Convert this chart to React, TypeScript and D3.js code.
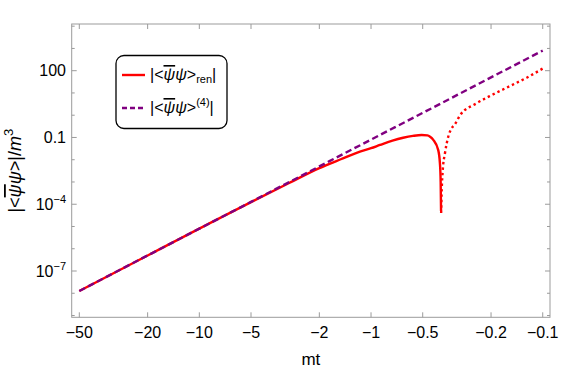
import React from 'react'
import * as d3 from 'd3'

// values (mt < 0, log-log axes)
const dashMt = [-50, -20, -10, -5, -2, -1, -0.5, -0.2, -0.1]
const dashVal = [1.27e-8, 5.0e-7, 8.0e-6, 1.27e-4, 5.0e-3, 0.08, 1.27, 50, 800]

const renMt = [-50, -20, -10, -5, -3, -2, -1.5, -1.16, -1, -0.887, -0.75, -0.65, -0.57, -0.507, -0.47, -0.453, -0.434, -0.406, -0.397, -0.393, -0.391]
const renVal = [1.27e-8, 5.0e-7, 8.0e-6, 1.25e-4, 9.0e-4, 4.2e-3, 1.05e-2, 0.023, 0.033, 0.046, 0.072, 0.097, 0.118, 0.13, 0.124, 0.108, 0.078, 0.027, 0.007, 0.001, 5e-5]

// negative branch, drawn dotted
const negMt = [-0.3905, -0.388, -0.382, -0.371, -0.355, -0.34, -0.324, -0.303, -0.243, -0.194, -0.155, -0.124, -0.1]
const negVal = [4e-5, 3e-4, 3.5e-3, 0.0195, 0.108, 0.25, 0.4, 1.0, 3.4, 8.7, 20.5, 48.5, 125]

const xTicks = [-50, -20, -10, -5, -2, -1, -0.5, -0.2, -0.1]
const yMajor = [1e-7, 1e-4, 0.1, 100]
const yMinorExp = [-9, -8, -6, -5, -3, -2, 0, 1, 3, 4]

const W = 561
const H = 371
const L = 71.7, R = 550, T = 24, B = 317.3
const font = "'Liberation Sans', Arial, sans-serif"

export default function App() {
  const x = d3.scaleLog().domain([-55.37, -0.0907]).range([L, R])
  const y = d3.scaleLog().domain([Math.pow(10, -9.08), Math.pow(10, 4.098)]).range([B, T])

  const line = d3.line<[number, number]>()
    .x(d => x(d[0]))
    .y(d => y(d[1]))
    .curve(d3.curveMonotoneX)

  const zip = (a: number[], b: number[]) => a.map((v, i) => [v, b[i]] as [number, number])

  const frame = '#9b9b9b'
  const fmtX = (v: number) => '\u2212' + String(Math.abs(v))

  const yLabel = (v: number) => {
    if (v === 100) return <tspan>100</tspan>
    if (v === 0.1) return <tspan>0.1</tspan>
    const e = Math.round(Math.log10(v))
    return (
      <>
        <tspan>10</tspan>
        <tspan dy={-7} fontSize={11}>{'\u2212' + Math.abs(e)}</tspan>
      </>
    )
  }

  return (
    <svg width={W} height={H} style={{ position: 'absolute', left: 0, top: 0, background: '#fff' }}
      fontFamily={font}>
      <defs>
        <clipPath id="plot">
          <rect x={L} y={T} width={R - L} height={B - T} />
        </clipPath>
      </defs>

      {/* frame */}
      <rect x={L} y={T} width={R - L} height={B - T} fill="none" stroke={frame} strokeWidth={1} />

      {/* x ticks, bottom + top */}
      {xTicks.map(t => (
        <g key={'xt' + t}>
          <line x1={x(t)} x2={x(t)} y1={B} y2={B - 5} stroke={frame} />
          <line x1={x(t)} x2={x(t)} y1={T} y2={T + 5} stroke={frame} />
          <text x={x(t)} y={337.5} textAnchor="middle" fontSize={16} fill="#000">{fmtX(t)}</text>
        </g>
      ))}

      {/* y ticks */}
      {yMajor.map(t => (
        <g key={'ym' + t}>
          <line x1={L} x2={L + 5} y1={y(t)} y2={y(t)} stroke={frame} />
          <line x1={R} x2={R - 5} y1={y(t)} y2={y(t)} stroke={frame} />
          <text x={66} y={y(t) + 5.5} textAnchor="end" fontSize={16} fill="#000">{yLabel(t)}</text>
        </g>
      ))}
      {yMinorExp.map(e => (
        <g key={'yn' + e}>
          <line x1={L} x2={L + 3} y1={y(Math.pow(10, e))} y2={y(Math.pow(10, e))} stroke={frame} />
          <line x1={R} x2={R - 3} y1={y(Math.pow(10, e))} y2={y(Math.pow(10, e))} stroke={frame} />
        </g>
      ))}

      {/* curves */}
      <g clipPath="url(#plot)" fill="none">
        <path d={line(zip(renMt, renVal)) || ''} stroke="#ff0000" strokeWidth={2.4} />
        <path d={line(zip(negMt, negVal)) || ''} stroke="#ff0000" strokeWidth={2.4} strokeDasharray="2.4 3" />
        <path d={line(zip(dashMt, dashVal)) || ''} stroke="#800080" strokeWidth={2.4} strokeDasharray="6.5 3.5" />
      </g>

      {/* axis labels */}
      <text x={(L + R) / 2} y={365} textAnchor="middle" fontSize={17} fill="#000">mt</text>
      <text transform={`translate(21, ${(T + B) / 2}) rotate(-90)`} textAnchor="middle" fontSize={18} fill="#000">
        |&lt;<tspan fontStyle="italic" textDecoration="overline">ψ</tspan><tspan fontStyle="italic">ψ</tspan>&gt;|/<tspan fontStyle="italic">m</tspan><tspan dy={-8} fontSize={13}>3</tspan>
      </text>

      {/* legend */}
      <rect x={116} y={55.5} width={111} height={73} rx={8} fill="#fff" stroke="#000" strokeWidth={1.3} />
      <line x1={122} x2={145} y1={75} y2={75} stroke="#ff0000" strokeWidth={2.4} />
      <text x={150} y={80} fontSize={16} fill="#000">
        |&lt;<tspan fontStyle="italic" textDecoration="overline">ψ</tspan><tspan fontStyle="italic">ψ</tspan>&gt;<tspan dy={3} fontSize={11}>ren</tspan><tspan dy={-3}>|</tspan>
      </text>
      <line x1={122} x2={145} y1={108} y2={108} stroke="#800080" strokeWidth={2.4} strokeDasharray="5 3" />
      <text x={150} y={113} fontSize={16} fill="#000">
        |&lt;<tspan fontStyle="italic" textDecoration="overline">ψ</tspan><tspan fontStyle="italic">ψ</tspan>&gt;<tspan dy={-7} fontSize={11}>(4)</tspan><tspan dy={7}>|</tspan>
      </text>
    </svg>
  )
}
